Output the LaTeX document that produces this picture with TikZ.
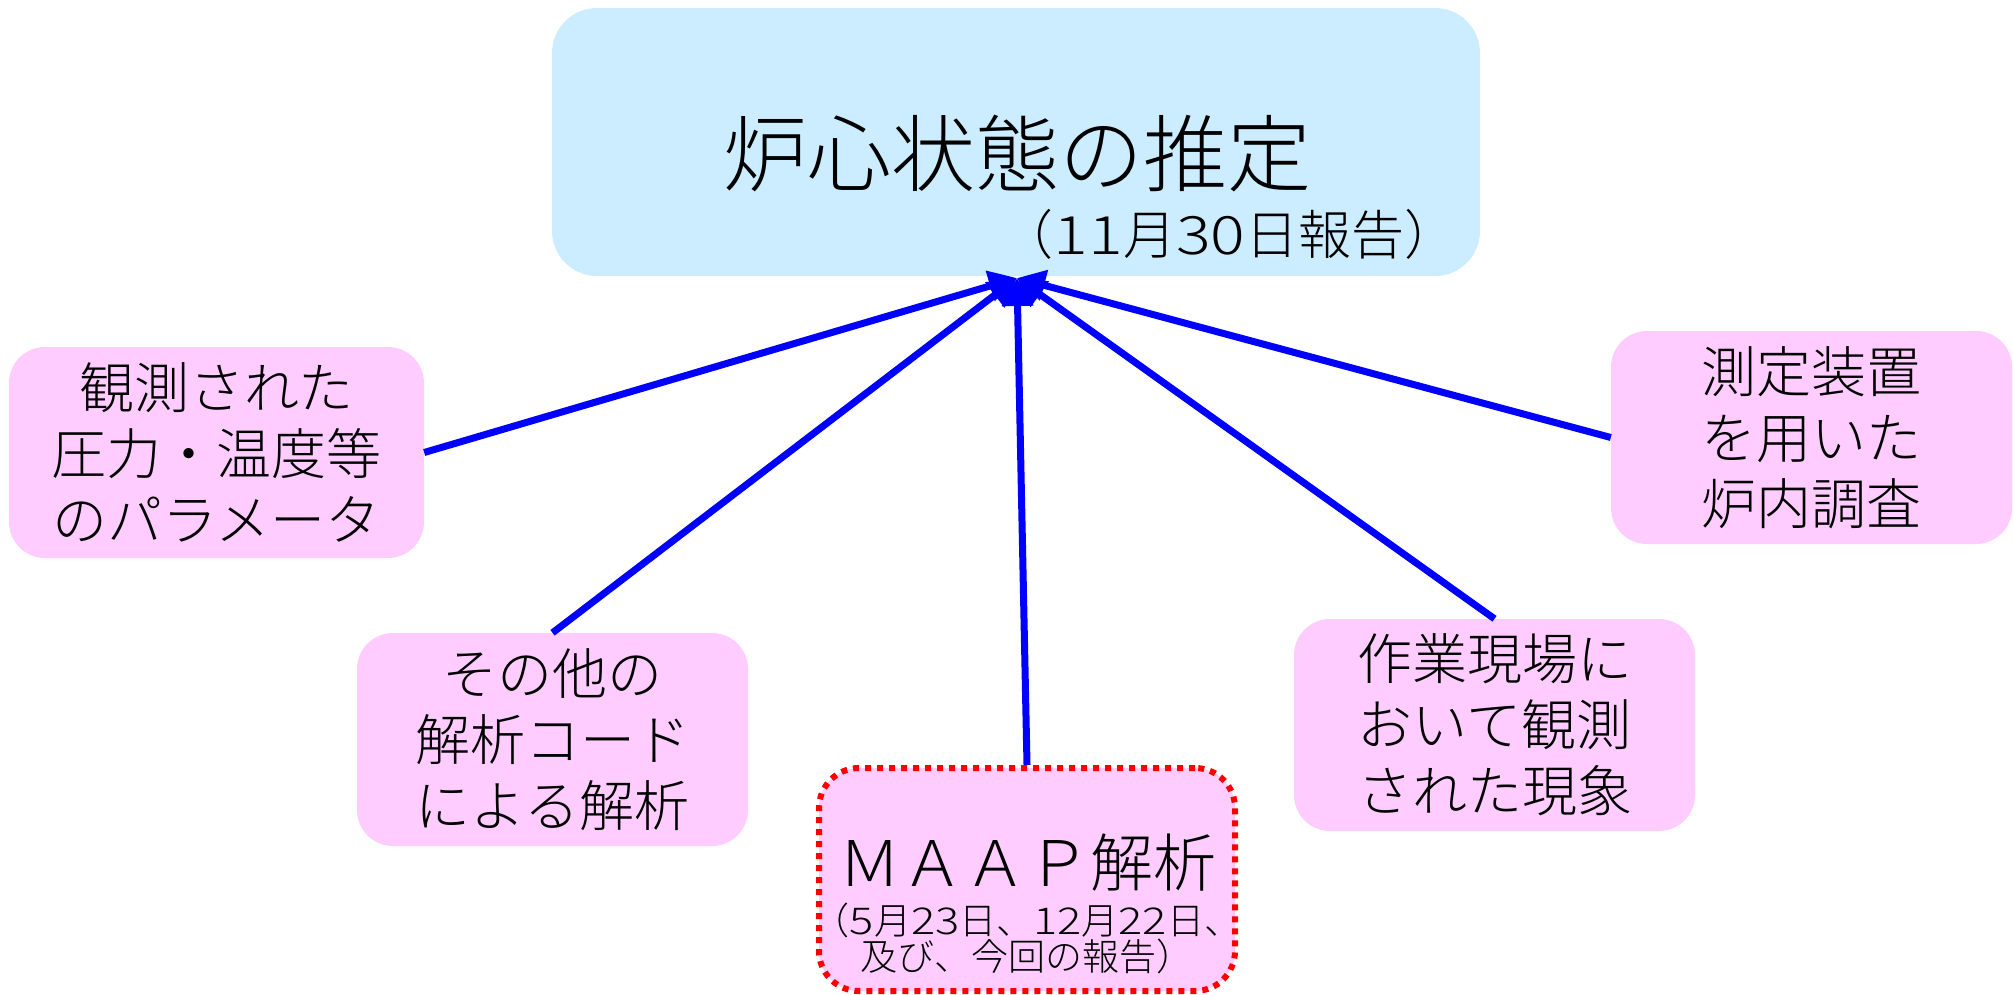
\documentclass[tikz,border=0pt]{standalone}
\usepackage{fontspec}
\setmainfont{Noto Sans CJK JP}[UprightFont=* Light]
\usetikzlibrary{arrows.meta}
\definecolor{topfill}{HTML}{CCECFF}
\definecolor{pinkfill}{HTML}{FFCCFF}
\newcommand{\widedig}[1]{\scalebox{1.22}[1]{#1}}
\begin{document}
\begin{tikzpicture}[x=1pt,y=-1pt,
  pbox/.style={fill=pinkfill, rounded corners=36pt, inner sep=0pt, align=center,
    font=\fontsize{55}{66}\selectfont},
  topbox/.style={fill=topfill, rounded corners=45pt, inner sep=0pt},
  maapbox/.style={fill=pinkfill, draw=red, line width=6pt, dash pattern=on 6pt off 6pt,
    rounded corners=40pt, inner sep=0pt},
  link/.style={draw=blue, line width=7pt, -{Triangle[length=28pt,width=30pt]}}]
\useasboundingbox (0,0) rectangle (2013,994);

\node[topbox, minimum width=928pt, minimum height=268pt] (top) at (1016,142) {};
\node[font=\fontsize{84}{90}\selectfont] (title) at (1017,154) {炉心状態の推定};
\node[font=\fontsize{53}{56}\selectfont] (sub) at (1229,234) {（\widedig{11}月\widedig{30}日報告）};
\coordinate (tip) at (1017,278);

\node[pbox, minimum width=415pt, minimum height=211pt] (obs) at (216.5,452.5)
  {観測された\\圧力・温度等\\のパラメータ};
\node[pbox, minimum width=391pt, minimum height=213pt] (code) at (552.5,739.5)
  {その他の\\解析コード\\による解析};
\node[maapbox, minimum width=416pt, minimum height=223pt] (maap) at (1027,879.5) {};
\node[font=\fontsize{63}{70}\selectfont] (maapt) at (1027,863) {ＭＡＡＰ解析};
\node[font=\fontsize{37}{36}\selectfont, align=center] (maaps) at (1027,938)
  {（\widedig{5}月\widedig{23}日、\widedig{12}月\widedig{22}日、\\及び、今回の報告）};
\node[pbox, minimum width=401pt, minimum height=212pt] (site) at (1494.5,725)
  {作業現場に\\おいて観測\\された現象};
\node[pbox, minimum width=401pt, minimum height=213pt] (meas) at (1811.5,437.5)
  {測定装置\\を用いた\\炉内調査};

\draw[link] (obs.east) -- (tip);
\draw[link] (code.north) -- (tip);
\draw[link] (maap.north) -- (tip);
\draw[link] (site.north) -- (tip);
\draw[link] (meas.west) -- (tip);
\end{tikzpicture}
\end{document}
